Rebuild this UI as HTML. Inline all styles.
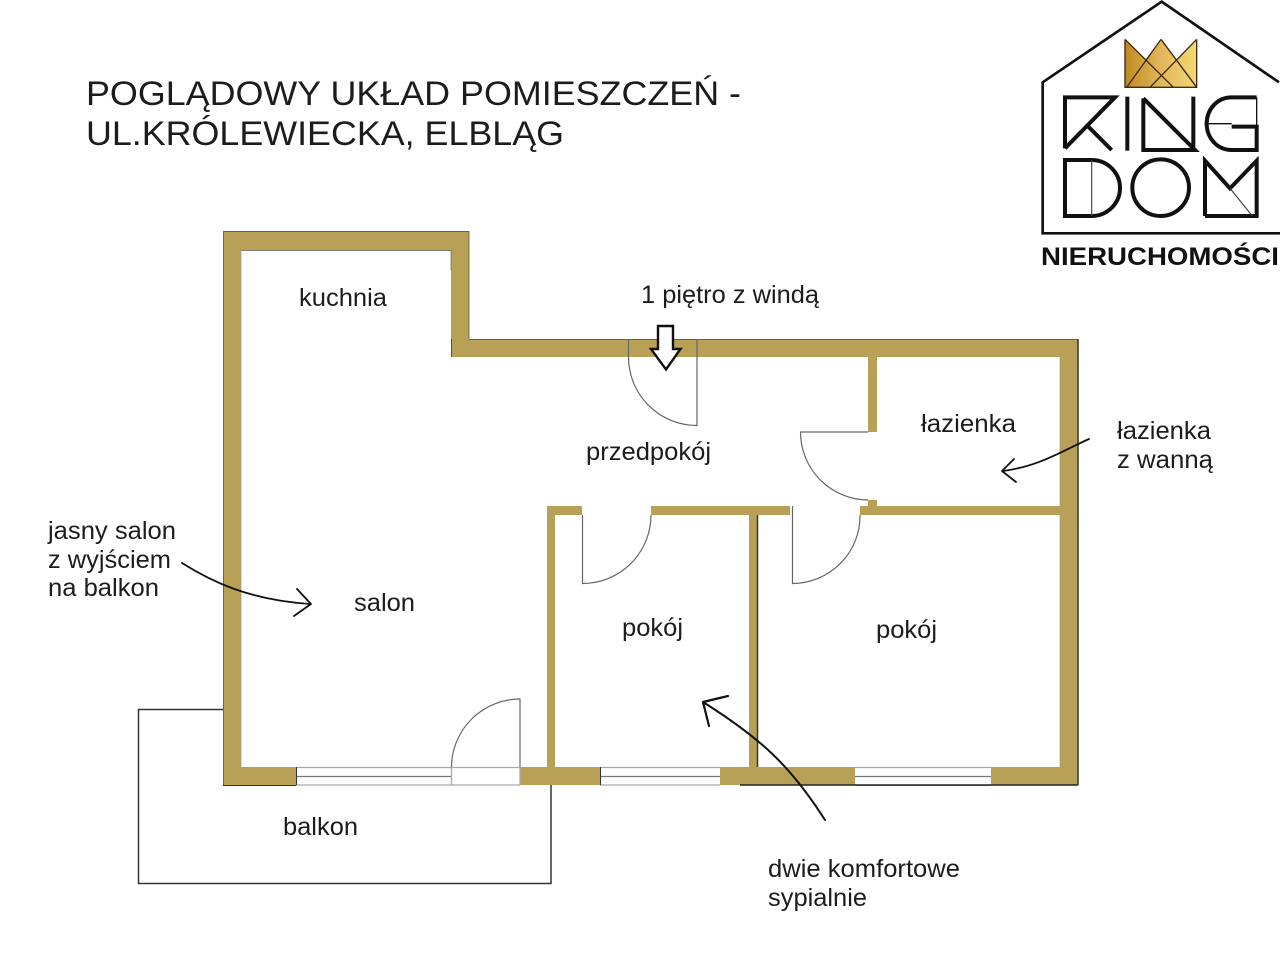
<!DOCTYPE html>
<html lang="pl">
<head>
<meta charset="utf-8">
<title>Poglądowy układ pomieszczeń</title>
<style>
html,body{margin:0;padding:0;background:#fff;width:1280px;height:961px;overflow:hidden}
svg{display:block}
text{font-family:"Liberation Sans",sans-serif;fill:#1c1c1c}
</style>
</head>
<body>
<svg width="1280" height="961" viewBox="0 0 1280 961" xmlns="http://www.w3.org/2000/svg">
<defs>
<linearGradient id="gold" x1="0" x2="1" y1="0" y2="0">
<stop offset="0" stop-color="#c08a22"/>
<stop offset=".5" stop-color="#e2b65a"/>
<stop offset="1" stop-color="#f3d873"/>
</linearGradient>
</defs>
<rect width="1280" height="961" fill="#fff"/>

<!-- Title -->
<text x="86" y="105" font-size="34.500" textLength="655" lengthAdjust="spacingAndGlyphs">POGLĄDOWY UKŁAD POMIESZCZEŃ -</text>
<text x="86" y="145" font-size="34.500" textLength="478" lengthAdjust="spacingAndGlyphs">UL.KRÓLEWIECKA, ELBLĄG</text>

<!-- Balcony outline -->
<path d="M223 709.500H138.500V883.500H551V785" fill="none" stroke="#333" stroke-width="1.500"/>

<!-- Walls -->
<g fill="#b9a057">
<path d="M223 231H469V339H1078V785H991V767H1060V357H451V339V250H241V767H296V785H223Z"/>
<rect x="520" y="767" width="80" height="18"/>
<rect x="720" y="767" width="135" height="18"/>
<rect x="547" y="506" width="8" height="261"/>
<rect x="547" y="506" width="35" height="9"/>
<rect x="651" y="506" width="139" height="9"/>
<rect x="749" y="515" width="9" height="252"/>
<rect x="860" y="506" width="200" height="9"/>
<rect x="868" y="500" width="9" height="8"/>
<rect x="868" y="357" width="9" height="75"/>
</g>

<!-- Wall edge lines -->
<g fill="none" stroke="#55503c" stroke-width="1">
<path d="M223.500 231V785M223 231.500H469M241 250.500H451M469 231V339M469 339.500H1078" opacity=".75"/>
<path d="M451.500 339V357"/>
<path d="M757.500 515V767" stroke-width="1.500" stroke="#3a3520"/>
<path d="M451 250V270" opacity=".6"/>
<path d="M1078 339V785" stroke="#333" stroke-width="1.500"/>
<path d="M241 250V767M1060 357V767" stroke="#9c9c90" opacity=".7"/>
</g>
<path d="M740 785H1078" fill="none" stroke="#222" stroke-width="1.600"/>
<path d="M223 785.500H296" stroke="#333" stroke-width="1"/>

<!-- Windows -->
<g fill="#fff">
<rect x="296" y="767" width="155" height="18"/>
<rect x="600" y="767" width="120" height="18"/>
<rect x="855" y="767" width="136" height="18"/>
<rect x="451" y="767" width="69" height="18"/>
</g>
<g fill="none" stroke="#a9a9a9" stroke-width="1.300">
<path d="M296 767.500H520M296 785H520"/>
<path d="M600 767.500H720M600 785H720"/>
<path d="M855 767.500H991"/>
<path d="M451.500 767V785M520 767V785"/>
</g>
<path d="M855 785H991" stroke="#222" stroke-width="1.600"/>
<g fill="none" stroke="#777" stroke-width="1.300">
<path d="M296 776.500H451M600 776.500H720M855 776.500H991"/>
</g>
<path d="M296.500 767V785M600.500 767V785" stroke="#333" stroke-width="1"/>

<!-- Doors -->
<g fill="none" stroke="#666" stroke-width="1.200">
<path d="M628.500 339V357"/>
<path d="M628.500 357A68.500 68.500 0 0 0 697 425.500V339"/>
<path d="M868 432H800.500A68 68 0 0 0 868 500"/>
<path d="M582.500 515V583.500A68.500 68.500 0 0 0 651 515"/>
<path d="M792.500 506V583.500A68 68 0 0 0 860 515"/>
<path d="M451.500 767A68.500 68.500 0 0 1 520 699V767"/>
</g>

<!-- Entry arrow -->
<path d="M658 326H673V349H680.500L666 369.500L651 349H658Z" fill="#fff" stroke="#111" stroke-width="2.400" stroke-linejoin="miter"/>

<!-- Callout arrows -->
<g fill="none" stroke="#111" stroke-width="1.800" stroke-linecap="round" stroke-linejoin="round">
<path d="M182 563C212 582 250 600 310 604"/>
<path d="M297 589L311 604L294 616"/>
<path d="M1089 439C1062 451 1040 466 1003 471"/>
<path d="M1014 459L1002 471L1016 482"/>
<path d="M825 820C790 765 760 738 703 702" stroke-width="2"/>
<path d="M728 696L703 702L709 726" stroke-width="2.200"/>
</g>

<!-- Labels -->
<g font-size="25">
<text x="299" y="306" textLength="88" lengthAdjust="spacingAndGlyphs">kuchnia</text>
<text x="641" y="303" textLength="178" lengthAdjust="spacingAndGlyphs">1 piętro z windą</text>
<text x="586" y="460" textLength="125" lengthAdjust="spacingAndGlyphs">przedpokój</text>
<text x="921" y="432" textLength="95" lengthAdjust="spacingAndGlyphs">łazienka</text>
<text x="1117" y="439" textLength="94" lengthAdjust="spacingAndGlyphs">łazienka</text>
<text x="1117" y="468" textLength="96" lengthAdjust="spacingAndGlyphs">z wanną</text>
<text x="48" y="539" textLength="128" lengthAdjust="spacingAndGlyphs">jasny salon</text>
<text x="48" y="568" textLength="123" lengthAdjust="spacingAndGlyphs">z wyjściem</text>
<text x="48" y="596" textLength="111" lengthAdjust="spacingAndGlyphs">na balkon</text>
<text x="354" y="611" textLength="61" lengthAdjust="spacingAndGlyphs">salon</text>
<text x="622" y="636" textLength="61" lengthAdjust="spacingAndGlyphs">pokój</text>
<text x="876" y="638" textLength="61" lengthAdjust="spacingAndGlyphs">pokój</text>
<text x="283" y="835" textLength="75" lengthAdjust="spacingAndGlyphs">balkon</text>
<text x="768" y="877" textLength="192" lengthAdjust="spacingAndGlyphs">dwie komfortowe</text>
<text x="768" y="906" textLength="99" lengthAdjust="spacingAndGlyphs">sypialnie</text>
</g>

<!-- Logo -->
<g transform="translate(1030 0) scale(.33333)" fill="none" stroke="#111">
<path d="M747 247L395 5L38 247V700H750" stroke-width="8"/>
<!-- crown -->
<path d="M285 118L345 180L393 118L440 180L500 118V262H285Z" fill="url(#gold)" stroke="none"/>
<path d="M285 118L430 262M393 118L500 262M393 118L290 262M500 118L360 262M285 118V262H500V118" stroke="#3c2c10" stroke-width="4"/>
<!-- KING -->
<g stroke-width="12">
<path d="M105 445V292H255L105 445M170 375L245 450"/>
<path d="M292 290V452"/>
<path d="M340 295V450H495L340 295M490 290V450"/>
<path d="M680 292H605C560 292 530 330 530 371C530 412 560 450 605 450H680V380H605" />
</g>
<path d="M680 292V380M530 371H605" stroke-width="4"/>
<!-- DOM -->
<g stroke-width="12">
<path d="M105 480H185C232 480 270 518 270 564C270 610 232 648 185 648H105Z"/>
<circle cx="392" cy="563" r="85"/>
<path d="M525 648V482L600 565L680 482V648H525"/>
</g>
<path d="M185 480V648M600 565L667 648" stroke-width="3.500" stroke="#444"/>
</g>
<text x="1041" y="265" font-size="25" font-weight="700" textLength="238" lengthAdjust="spacingAndGlyphs" style="fill:#111">NIERUCHOMOŚCI</text>
</svg>
</body>
</html>
